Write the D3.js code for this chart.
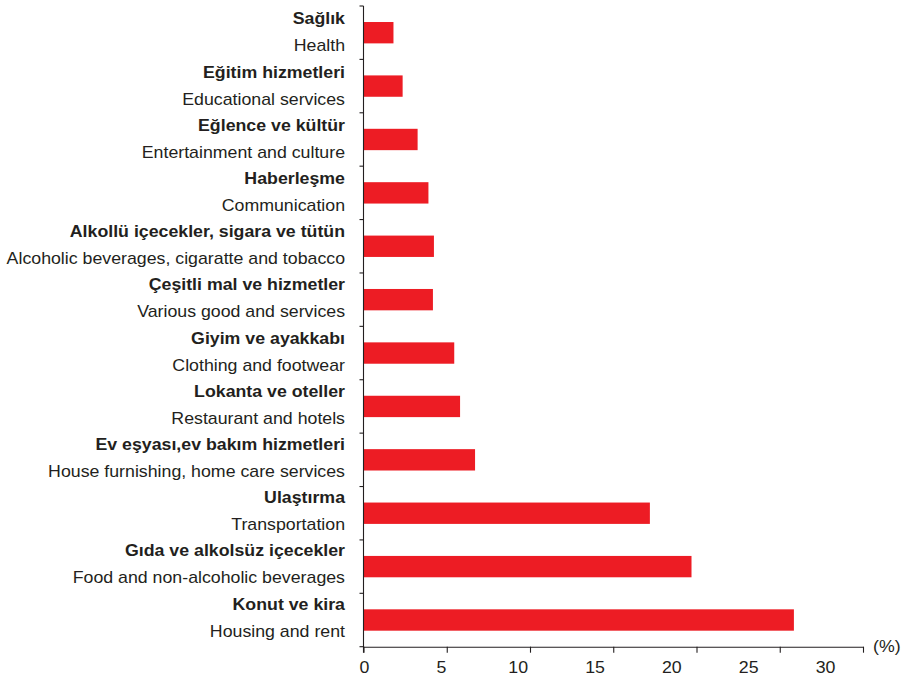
<!DOCTYPE html>
<html>
<head>
<meta charset="utf-8">
<script src="https://cdn.jsdelivr.net/npm/d3@7"></script>
<style>
  html, body { margin: 0; padding: 0; background: #ffffff; }
  svg { display: block; font-family: "Liberation Sans", Arial, Helvetica, sans-serif; }
</style>
</head>
<body>
<svg id="chart" width="904" height="678"></svg>
<script>
// Household consumption expenditure shares by group (%), top to bottom
const labelsTr = [
  "Sağlık",
  "Eğitim hizmetleri",
  "Eğlence ve kültür",
  "Haberleşme",
  "Alkollü içecekler, sigara ve tütün",
  "Çeşitli mal ve hizmetler",
  "Giyim ve ayakkabı",
  "Lokanta ve oteller",
  "Ev eşyası,ev bakım hizmetleri",
  "Ulaştırma",
  "Gıda ve alkolsüz içecekler",
  "Konut ve kira"
];
const labelsEn = [
  "Health",
  "Educational services",
  "Entertainment and culture",
  "Communication",
  "Alcoholic beverages, cigaratte and tobacco",
  "Various good and services",
  "Clothing and footwear",
  "Restaurant and hotels",
  "House furnishing, home care services",
  "Transportation",
  "Food and non-alcoholic beverages",
  "Housing and rent"
];
const shares = [1.8, 2.35, 3.25, 3.9, 4.23, 4.17, 5.45, 5.8, 6.7, 17.2, 19.7, 25.85];
const xTicks = [0, 5, 10, 15, 20, 25, 30];
const unitLabel = "(%)";

const svg = d3.select("#chart");
const ink = "#231f20";
const barColor = "#ed1c24";
const fontSize = 16;
const stretch = 1.11;   // text is set slightly wide

const x = d3.scaleLinear().domain([0, 30]).range([363.5, 863]);
// tick labels sit on a slightly narrower run than the tick marks
const xLabel = d3.scaleLinear().domain([0, 30]).range([364, 825]);

const y = d3.scaleBand()
  .domain(d3.range(labelsTr.length))
  .range([6, 646.7])
  .paddingInner(0.6)
  .paddingOuter(0.3);

// bars
svg.append("g")
  .selectAll("rect")
  .data(shares)
  .join("rect")
  .attr("x", x(0))
  .attr("y", (d, i) => y(i))
  .attr("width", d => x(d) - x(0))
  .attr("height", y.bandwidth())
  .attr("fill", barColor);

// category labels: Turkish (bold) over English, right-aligned at x = 345
const labelRight = 345;
const lab = svg.append("g")
  .attr("transform", `translate(${labelRight},0) scale(${stretch},1)`)
  .attr("font-size", fontSize).attr("fill", ink).attr("text-anchor", "end");
labelsTr.forEach((t, i) => {
  const c = y(i) + y.bandwidth() / 2;
  const shift = -1 - 2 * i / (labelsTr.length - 1);
  lab.append("text").attr("x", 0).attr("y", c - 7.3 + shift)
    .attr("font-weight", "bold").text(t);
  lab.append("text").attr("x", 0).attr("y", c + 19.7 + shift).text(labelsEn[i]);
});

// vertical axis with ticks at category boundaries
const yAxis = svg.append("g").attr("stroke", ink).attr("stroke-width", 1.1);
const gap = (y.step() - y.bandwidth()) / 2;
const bounds = d3.range(labelsTr.length).map(i => y(i) - gap);
bounds.push(y(labelsTr.length - 1) + y.bandwidth() + gap);
yAxis.append("line")
  .attr("x1", x(0)).attr("x2", x(0))
  .attr("y1", bounds[0]).attr("y2", bounds[bounds.length - 1] + 6);
yAxis.selectAll("line.tick")
  .data(bounds)
  .join("line")
  .attr("class", "tick")
  .attr("x1", x(0) - 4).attr("x2", x(0))
  .attr("y1", d => d).attr("y2", d => d);

// horizontal axis
const axisY = bounds[bounds.length - 1];
const xAxis = svg.append("g")
  .attr("transform", `translate(0,${axisY})`)
  .call(d3.axisBottom(x).tickValues(xTicks).tickSize(6).tickSizeOuter(0));
xAxis.select(".domain").attr("stroke", ink).attr("stroke-width", 1.1);
xAxis.selectAll(".tick line").attr("stroke", ink).attr("stroke-width", 1.1);
xAxis.selectAll(".tick text")
  .attr("font-size", fontSize)
  .attr("font-family", "\"Liberation Sans\", Arial, sans-serif")
  .attr("fill", ink)
  .attr("dy", null)
  .attr("y", 26.5)
  .attr("transform", `scale(${stretch},1)`)
  .attr("x", d => (xLabel(d) - x(d)) / stretch);

svg.append("text")
  .attr("transform", `translate(873,${axisY + 5.5}) scale(${stretch},1)`)
  .attr("font-size", fontSize).attr("fill", ink)
  .text(unitLabel);
</script>
</body>
</html>
